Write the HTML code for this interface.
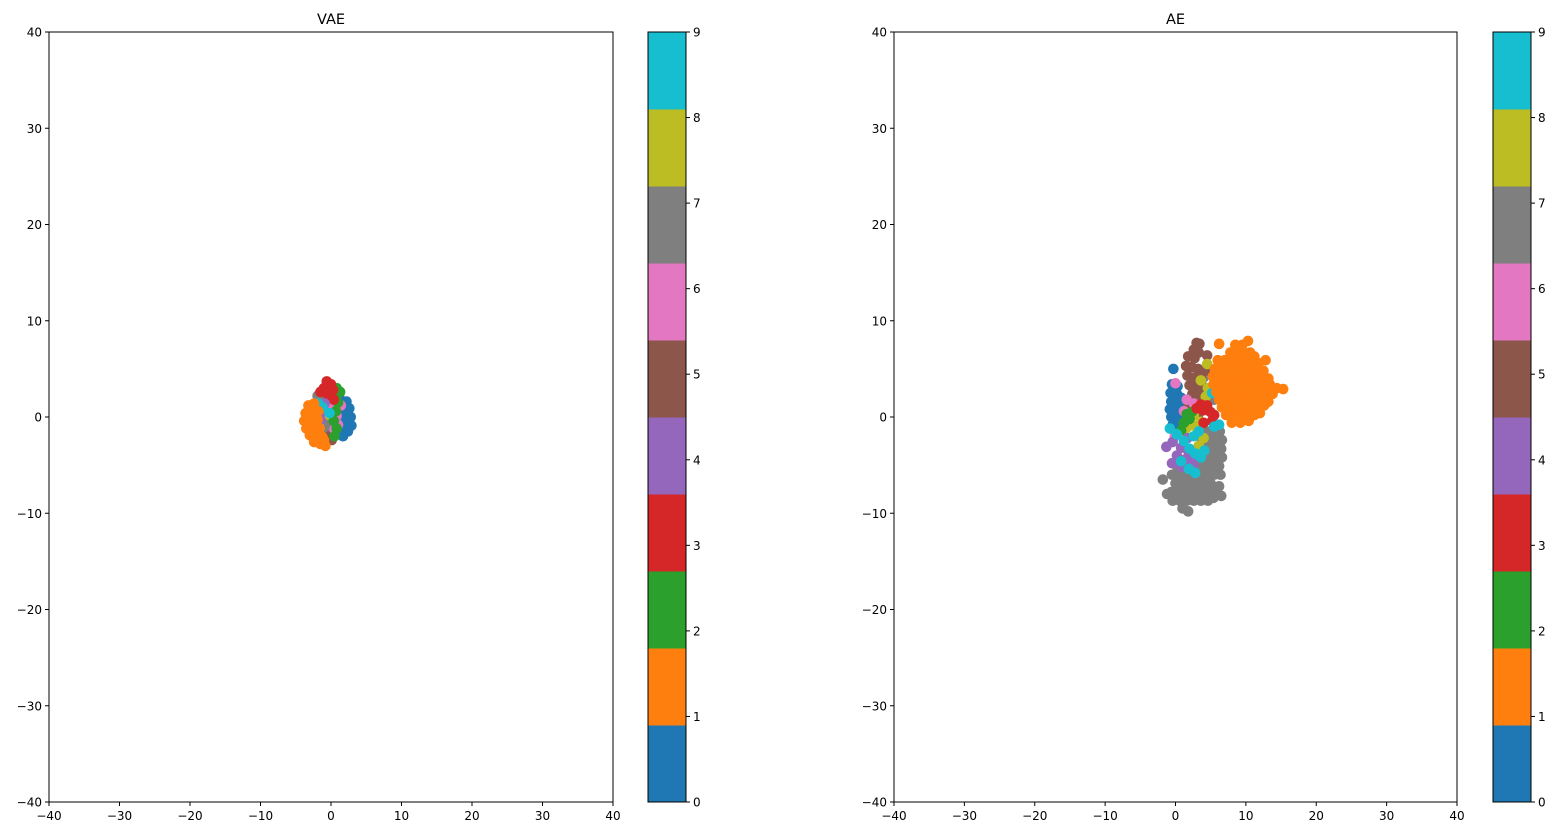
<!DOCTYPE html>
<html><head><meta charset="utf-8"><style>
body{margin:0;background:#fff}
svg{display:block;font-family:"DejaVu Sans","Liberation Sans",sans-serif}
</style></head><body>
<svg id="fig" width="1560" height="836"></svg>
<script>
const colors=["#1f77b4","#ff7f0e","#2ca02c","#d62728","#9467bd","#8c564b","#e377c2","#7f7f7f","#bcbd22","#17becf"];
const ticks=[-40,-30,-20,-10,0,10,20,30,40];
const cbTicks=[0,1,2,3,4,5,6,7,8,9];
const drawOrder=[7,0,5,8,6,2,3,4,9,1];
const vae0=[[1.2,2.0],[2.2,1.6],[1.5,1.2],[2.6,0.9],[0.8,0.9],[1.8,0.3],[2.8,0.0],[1.0,-0.2],[2.2,-0.6],[2.9,-0.9],[1.4,-1.0],[2.4,-1.5],[1.2,-1.7],[1.7,-2.0]];
const vae1=[[-3.2,1.2],[-2.4,1.4],[-3.6,0.4],[-2.6,0.5],[-1.8,0.6],[-3.8,-0.4],[-2.8,-0.3],[-1.9,-0.3],[-3.5,-1.2],[-2.5,-1.1],[-1.6,-1.2],[-3.0,-1.9],[-2.0,-2.0],[-1.2,-2.1],[-2.4,-2.6],[-1.5,-2.8],[-0.8,-3.0],[-1.0,-2.4]];
const vae2=[[0.8,3.0],[0.6,2.2],[1.0,1.5],[0.7,0.6],[0.4,-0.4],[0.8,-1.2],[1.3,2.6],[0.5,-2.0]];
const vae3=[[-0.6,3.7],[0.0,3.4],[-1.0,3.0],[0.3,2.8],[-0.4,2.3],[0.4,1.8],[-1.5,2.6]];
const vae4=[[-1.6,0.3],[-1.2,0.6],[-1.5,-0.3],[-0.9,1.4]];
const vae5=[[0.1,-2.4],[-0.2,-2.0]];
const vae6=[[1.4,1.2],[0.8,0.1],[1.0,-0.8],[0.5,-1.3],[-0.3,1.2]];
const vae7=[[-1.6,1.8],[-1.0,0.8],[-0.8,-0.2],[-0.6,-1.2],[0.2,-1.6],[-0.2,-0.8],[-1.9,2.2]];
const vae8=[[0.1,0.8],[-0.2,0.2]];
const vae9=[[-1.2,1.0],[-0.2,0.4],[-1.8,1.4]];
const ae0=[[-0.3,5.0],[-0.5,3.4],[0.3,3.2],[-0.7,2.5],[0.2,2.4],[0.8,2.0],[-0.6,1.6],[0.3,1.5],[-0.8,0.8],[0.1,0.7],[0.8,0.9],[-0.6,0.0],[0.3,-0.1],[-0.4,-0.8],[0.5,-0.6]];
const ae1=[[8.5,7.5],[9.5,7.5],[10.3,7.9],[6.2,7.6],[7.8,6.7],[8.8,6.7],[9.7,6.7],[10.6,6.7],[11.2,6.3],[6.0,5.9],[7.0,5.9],[8.0,5.9],[9.0,5.9],[10.0,5.9],[11.0,5.9],[11.8,5.6],[12.8,5.9],[5.6,5.0],[6.6,5.0],[7.6,5.0],[8.6,5.0],[9.6,5.0],[10.6,5.0],[11.6,5.0],[12.5,4.8],[5.3,4.2],[6.3,4.2],[7.3,4.2],[8.3,4.2],[9.3,4.2],[10.3,4.2],[11.3,4.2],[12.3,4.2],[13.2,4.0],[5.4,3.4],[6.4,3.4],[7.4,3.4],[8.4,3.4],[9.4,3.4],[10.4,3.4],[11.4,3.4],[12.4,3.4],[13.4,3.4],[14.4,3.0],[5.8,2.6],[6.8,2.6],[7.8,2.6],[8.8,2.6],[9.8,2.6],[10.8,2.6],[11.8,2.6],[12.8,2.6],[13.8,2.4],[15.3,2.9],[6.2,1.8],[7.2,1.8],[8.2,1.8],[9.2,1.8],[10.2,1.8],[11.2,1.8],[12.2,1.8],[13.2,1.6],[6.6,1.0],[7.6,1.0],[8.6,1.0],[9.6,1.0],[10.6,1.0],[11.6,1.0],[12.6,1.2],[7.2,0.2],[8.2,0.2],[9.2,0.2],[10.2,0.2],[11.2,0.2],[12.0,0.4],[8.0,-0.6],[9.2,-0.6],[10.4,-0.4]];
const ae2=[[1.6,0.3],[2.3,0.5],[1.2,-0.6],[0.8,-1.4],[2.0,-0.2]];
const ae3=[[3.0,0.9],[4.0,0.7],[5.0,0.5],[4.5,1.2],[5.5,0.2],[3.6,1.3],[5.2,-0.4],[4.0,-0.6]];
const ae4=[[0.8,-3.2],[1.8,-3.5],[-1.3,-3.1],[-0.4,-2.6],[0.2,-4.0],[1.4,-4.4],[2.4,-4.3],[0.9,-5.2],[-0.5,-4.8],[2.5,-5.0],[1.7,-2.2]];
const ae5=[[3.0,7.7],[3.4,7.6],[2.6,7.0],[3.3,6.7],[1.8,6.3],[2.7,6.1],[4.5,6.4],[1.5,5.3],[2.3,5.2],[3.2,5.0],[4.2,4.8],[1.7,4.3],[2.6,4.1],[3.6,4.0],[2.0,3.3],[3.0,3.2],[4.0,3.1],[2.4,2.4],[3.3,2.2],[1.8,1.0],[3.2,0.2]];
const ae6=[[0.0,3.5],[1.6,1.8],[2.6,1.4],[5.5,2.5],[1.2,0.6],[6.8,1.6],[-0.1,-2.0]];
const ae7=[[4.5,-1.5],[5.5,-1.5],[6.3,-1.5],[3.8,-2.4],[4.8,-2.4],[5.8,-2.4],[6.6,-2.4],[3.5,-3.3],[4.5,-3.3],[5.5,-3.3],[6.5,-3.3],[2.8,-4.2],[3.8,-4.2],[4.8,-4.2],[5.8,-4.2],[6.6,-4.2],[0.2,-5.1],[1.2,-5.1],[2.2,-5.1],[3.2,-5.1],[4.2,-5.1],[5.2,-5.1],[6.2,-5.1],[-0.5,-6.0],[0.5,-6.0],[1.5,-6.0],[2.5,-6.0],[3.5,-6.0],[4.5,-6.0],[5.5,-6.0],[6.4,-6.0],[-1.8,-6.5],[0.0,-6.9],[1.0,-6.9],[2.0,-6.9],[3.0,-6.9],[4.0,-6.9],[5.0,-6.9],[6.2,-7.2],[-1.2,-8.0],[-0.6,-7.8],[0.4,-7.8],[1.4,-7.8],[2.4,-7.8],[3.4,-7.8],[4.4,-7.8],[5.4,-7.8],[6.5,-8.2],[-0.4,-8.7],[0.6,-8.7],[1.6,-8.7],[2.6,-8.7],[3.6,-8.7],[4.6,-8.7],[5.4,-8.4],[1.0,-9.5],[1.8,-9.8],[4.0,4.1],[5.5,1.8]];
const ae8=[[3.6,3.8],[4.6,3.0],[4.3,2.1],[3.8,1.2],[2.6,0.2],[3.6,-0.5],[2.6,-0.9],[1.5,-1.2],[3.2,-1.8],[4.0,-2.2],[3.3,-3.0],[4.5,5.5]];
const ae9=[[1.2,-2.5],[0.2,-1.8],[2.6,-2.0],[2.0,-3.3],[0.8,-4.6],[2.8,-3.8],[3.6,-4.2],[1.9,-5.4],[5.2,2.5],[6.2,-0.8],[5.5,-1.0],[3.3,-1.5],[2.8,-5.8],[4.1,-3.5],[-0.8,-1.2]];
const vaeData=[vae0,vae1,vae2,vae3,vae4,vae5,vae6,vae7,vae8,vae9];
const aeData=[ae0,ae1,ae2,ae3,ae4,ae5,ae6,ae7,ae8,ae9];

const NS="http://www.w3.org/2000/svg";
const svg=document.getElementById("fig");
function mk(tag,attrs,parent,text){const e=document.createElementNS(NS,tag);for(const k in attrs)e.setAttribute(k,attrs[k]);if(text!==undefined)e.textContent=text;(parent||svg).appendChild(e);return e;}

function panel(name,title,x0,x1,cbx,data){
  const y0=32,y1=802;
  const g=mk("g",{});
  
  
  const sx=v=>x0+(v+40)/80*(x1-x0);
  const sy=v=>y1-(v+40)/80*(y1-y0);
  const t=mk("text",{x:(x0+x1)/2,y:24,"text-anchor":"middle","font-size":"14.5"},g,title);
  
  
  const pts=mk("g",{},g);
  
  
  drawOrder.forEach(c=>{data[c].forEach(p=>{
    const d=mk("circle",{cx:sx(p[0]),cy:sy(p[1]),r:5.3,fill:colors[c]},pts);
    
    
  });});
  const fr=mk("rect",{x:x0,y:y0,width:x1-x0,height:y1-y0,fill:"none",stroke:"#000","stroke-width":1},g);
  
  
  ticks.forEach(v=>{
    mk("line",{x1:sx(v),x2:sx(v),y1:y1,y2:y1+4,stroke:"#000"},g);
    const xl=mk("text",{x:sx(v),y:y1+18,"text-anchor":"middle","font-size":"12"},g,v<0?"\u2212"+(-v):String(v));
    
    
    mk("line",{x1:x0-4,x2:x0,y1:sy(v),y2:sy(v),stroke:"#000"},g);
    const yl=mk("text",{x:x0-7,y:sy(v)+4.5,"text-anchor":"end","font-size":"12"},g,v<0?"\u2212"+(-v):String(v));
    
    
  });
  const cb=mk("g",{},g);
  
  
  const cw=38,segH=(y1-y0)/colors.length;
  colors.forEach((c,i)=>{mk("rect",{x:cbx,y:y1-(i+1)*segH,width:cw,height:segH+0.5,fill:c},cb);});
  mk("rect",{x:cbx,y:y0,width:cw,height:y1-y0,fill:"none",stroke:"#000"},cb);
  cbTicks.forEach(v=>{
    const y=y1-v/9*(y1-y0);
    mk("line",{x1:cbx+cw,x2:cbx+cw+4,y1:y,y2:y,stroke:"#000"},cb);
    const l=mk("text",{x:cbx+cw+7,y:y+4.5,"font-size":"12"},cb,String(v));
    
    
  });
}
panel("vae","VAE",49,613,648,vaeData);
panel("ae","AE",894,1457,1493,aeData);
</script>
</body></html>
